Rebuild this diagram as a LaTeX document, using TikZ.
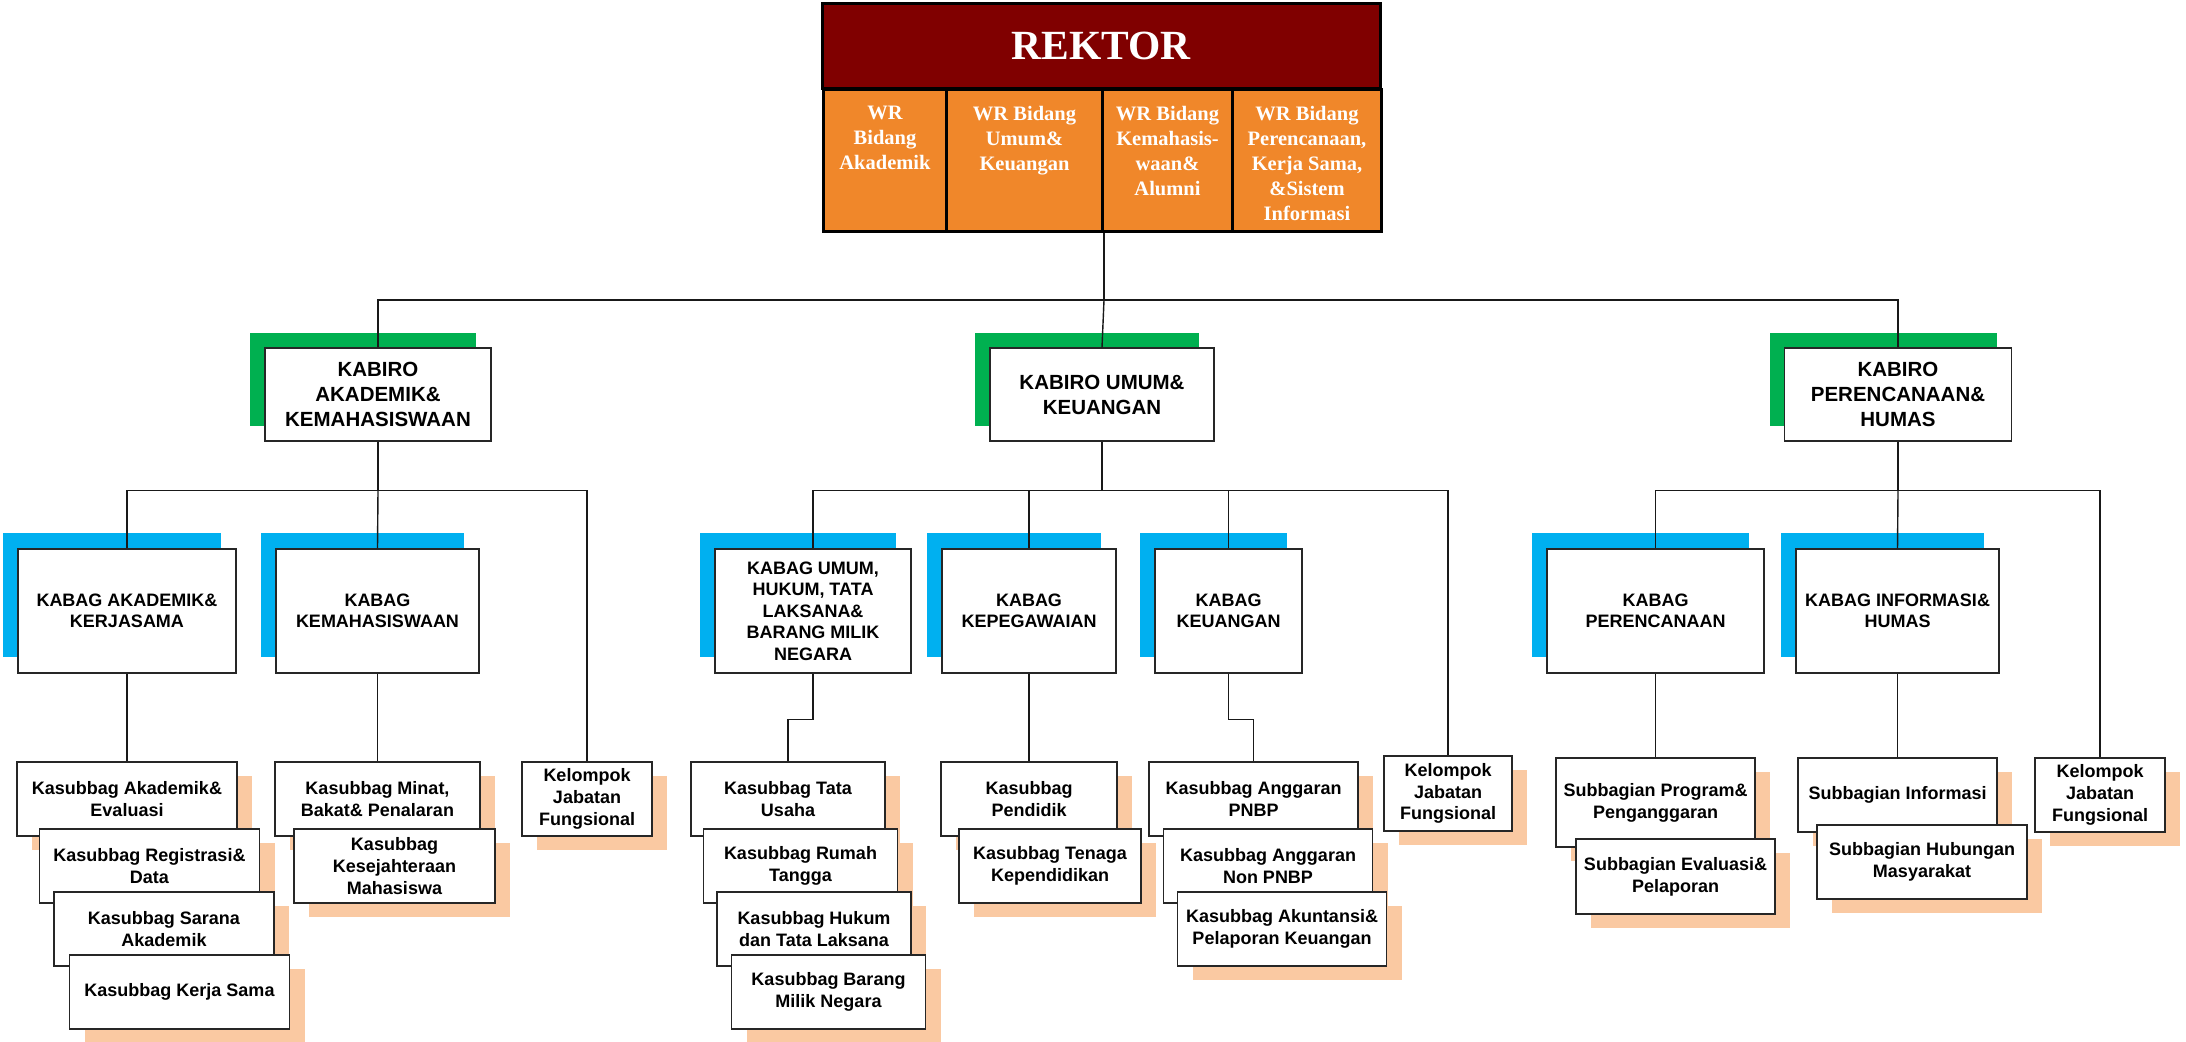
\documentclass[tikz,border=0pt]{standalone}
\usepackage{fontspec}
\setmainfont{Liberation Sans}
\newfontfamily\rekfont{Liberation Serif}
\usetikzlibrary{shadows}
\definecolor{merah}{RGB}{128,0,0}
\definecolor{jingga}{RGB}{240,135,42}
\definecolor{hijau}{RGB}{0,176,80}
\definecolor{biru}{RGB}{0,176,240}
\definecolor{peach}{RGB}{250,201,162}

\tikzset{
  kotak/.style={draw=black!85, fill=white, line width=1.3pt, align=center, inner sep=1pt},
  rek/.style={draw=black, line width=3pt, fill=merah, text=white, minimum width=558pt, minimum height=84pt, font=\rekfont\bfseries\fontsize{41.5}{48}\selectfont},
  sel/.style={draw=black, line width=3pt, fill=jingga, minimum height=142pt, inner sep=0pt},
  wrteks/.style={text=white, align=center, inner sep=0pt, font=\rekfont\bfseries\fontsize{20.5}{25}\selectfont},
  kabiro/.style={kotak, minimum height=93pt, font=\bfseries\fontsize{20.5}{25}\selectfont, general shadow={fill=hijau, shadow xshift=-15pt, shadow yshift=15pt}},
  kabag/.style={kotak, minimum height=124pt, font=\bfseries\fontsize{18}{21.5}\selectfont, general shadow={fill=biru, shadow xshift=-15pt, shadow yshift=16pt}},
  sub/.style={kotak, font=\bfseries\fontsize{18}{21.8}\selectfont, general shadow={fill=peach, shadow xshift=15pt, shadow yshift=-14pt}},
  garis/.style={line width=1.4pt, black!90}
}

\begin{document}
\begin{tikzpicture}[x=1pt, y=-1pt]
\useasboundingbox (0,0) rectangle (2186,1041);

% rektor dan wakil rektor
\node[rek] (rektor) at (1101,46) {REKTOR};
\foreach \n/\a/\b/\t in {1/822/945/{WR\\Bidang\\Akademik},
  2/945/1101/{WR Bidang\\Umum\&\\Keuangan},
  3/1101/1231/{WR Bidang\\Kemahasis-\\waan\&\\Alumni},
  4/1231/1380/{WR Bidang\\Perencanaan,\\Kerja Sama,\\\&Sistem\\Informasi}}
{
  \node[sel, minimum width={\b-\a}, anchor=north west] (sel\n) at (\a,88) {};
  \node[wrteks, anchor=north] (wr\n) at ([yshift=-18pt]sel\n.north) {\t};
}

% kabiro
\node[kabiro, minimum width=226] (kb1) at (378,394.5) {KABIRO\\AKADEMIK\&\\KEMAHASISWAAN};
\node[kabiro, minimum width=224] (kb2) at (1102,394.5) {KABIRO UMUM\&\\KEUANGAN};
\node[kabiro, minimum width=227] (kb3) at (1898,394.5) {KABIRO\\PERENCANAAN\&\\HUMAS};

% kabag
\foreach \n/\x/\w/\t in {kg11/127/218/{KABAG AKADEMIK\&\\KERJASAMA},
  kg12/377.5/203/{KABAG\\KEMAHASISWAAN},
  kg21/813/196/{KABAG UMUM,\\HUKUM, TATA\\LAKSANA\&\\BARANG MILIK\\NEGARA},
  kg22/1029/174/{KABAG\\KEPEGAWAIAN},
  kg23/1228.5/147/{KABAG\\KEUANGAN},
  kg31/1655.5/217/{KABAG\\PERENCANAAN},
  kg32/1897.5/203/{KABAG INFORMASI\&\\HUMAS}}
  \node[kabag, minimum width=\w] (\n) at (\x,611) {\t};

% kasubbag, subbagian, kelompok jabatan fungsional
\foreach \n/\x/\y/\w/\h/\t in {sa1/127/799/220/74/{Kasubbag Akademik\&\\Evaluasi},
  sa2/149.5/866/220/74/{Kasubbag Registrasi\&\\Data},
  sa3/164/929/220/74/{Kasubbag Sarana\\Akademik},
  sa4/179.5/992/220/74/{Kasubbag Kerja Sama},
  sk1/377.5/799/205/74/{Kasubbag Minat,\\Bakat\& Penalaran},
  sk2/394.5/866/201/74/{Kasubbag\\Kesejahteraan\\Mahasiswa},
  kel1/587/799/130/74/{Kelompok\\Jabatan\\Fungsional},
  su1/788/799/194/74/{Kasubbag Tata\\Usaha},
  su2/800.5/866/194/74/{Kasubbag Rumah\\Tangga},
  su3/814/929/194/74/{Kasubbag Hukum\\dan Tata Laksana},
  su4/828.5/992/194/74/{Kasubbag Barang\\Milik Negara},
  sp1/1029/799/176/74/{Kasubbag\\Pendidik},
  sp2/1050/866/182/74/{Kasubbag Tenaga\\Kependidikan},
  sg1/1253.5/799/209/74/{Kasubbag Anggaran\\PNBP},
  sg2/1268/866/209/74/{Kasubbag Anggaran\\Non PNBP},
  sg3/1282/929/209/74/{Kasubbag Akuntansi\&\\Pelaporan Keuangan},
  kel2/1448/793.5/128/75/{Kelompok\\Jabatan\\Fungsional},
  sr1/1655.5/802.5/199/89/{Subbagian Program\&\\Penganggaran},
  sr2/1675.5/876.5/199/75/{Subbagian Evaluasi\&\\Pelaporan},
  si1/1897.5/795/199/74/{Subbagian Informasi},
  si2/1922/862/210/74/{Subbagian Hubungan\\Masyarakat},
  kel3/2100/795/130/74/{Kelompok\\Jabatan\\Fungsional}}
  \node[sub, minimum width=\w, minimum height=\h] (\n) at (\x,\y) {\t};

% garis
\draw[garis] (sel2.south east) -- ++(0,67) coordinate (b0);
\draw[garis] (kb1.north) |- (b0) -| (kb3.north);
\draw[garis] (b0) -- (kb2.north);

\draw[garis] (kb1.south) -- ++(0,49) coordinate (b1);
\draw[garis] (kg11.north) |- (b1) -| (kel1.north);
\draw[garis] (b1) -- (kg12.north);

\draw[garis] (kb2.south) -- ++(0,49) coordinate (b2);
\draw[garis] (kg21.north) |- (b2) -| (kel2.north);
\draw[garis] (kg22.north) |- (b2);
\draw[garis] (kg23.north) |- (b2);

\draw[garis] (kb3.south) -- ++(0,49) coordinate (b3);
\draw[garis] (kg31.north) |- (b3) -| (kel3.north);
\draw[garis] (b3) -- (kg32.north);

\draw[garis] (kg11.south) -- (sa1.north);
\draw[garis] (kg12.south) -- (sk1.north);
\draw[garis] (kg21.south) -- ++(0,46) -| (su1.north);
\draw[garis] (kg22.south) -- (sp1.north);
\draw[garis] (kg23.south) -- ++(0,46) -| (sg1.north);
\draw[garis] (kg31.south) -- (sr1.north);
\draw[garis] (kg32.south) -- (si1.north);
\end{tikzpicture}
\end{document}
